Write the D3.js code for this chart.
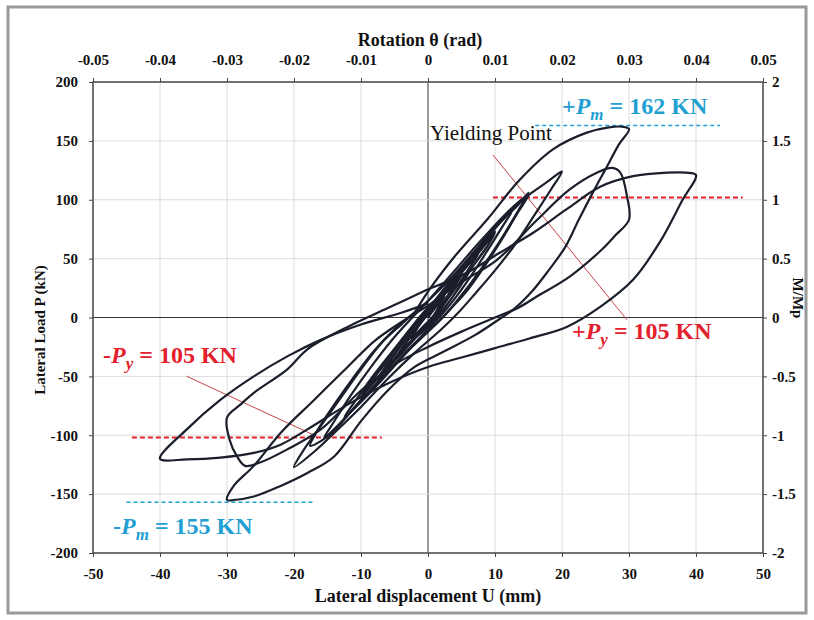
<!DOCTYPE html>
<html>
<head>
<meta charset="utf-8">
<script src="https://cdn.jsdelivr.net/npm/d3@7"></script>
<style>
  body { margin: 0; background: #fff; }
  svg text { font-family: "Liberation Serif", "Times New Roman", serif; }
</style>
</head>
<body>
<svg id="hysteresis-chart" width="814" height="620"></svg>
<script>
'use strict';

// axis ticks
var dispTicks = [-50, -40, -30, -20, -10, 0, 10, 20, 30, 40, 50]
var loadTicks = [-200, -150, -100, -50, 0, 50, 100, 150, 200]
var rotTicks = [-0.05, -0.04, -0.03, -0.02, -0.01, 0, 0.01, 0.02, 0.03, 0.04, 0.05]
var ratioTicks = [-2, -1.5, -1, -0.5, 0, 0.5, 1, 1.5, 2]

// hysteresis record, [U (mm), P (kN)], one array per displacement level
var cycle2 = [[0, 0], [1.2, 9], [2.5, 18], [1.8, 11], [0.6, 0], [-0.8, -8], [-2.5, -18], [-1.8, -11], [-0.6, 0], [0, 5]]
var cycle5 = [[0, 5], [2.5, 20], [5, 37], [4, 28], [2.2, 12], [0.8, 0], [-1.2, -12], [-3, -24], [-5, -36], [-4, -27],
  [-2.2, -12], [-0.8, 0], [1, 12], [3, 25], [5, 36], [4, 27], [2, 10], [0.6, -2], [-1.5, -14], [-5, -35],
  [-3.8, -26], [-1.5, -8], [0, 3]]
var cycle7 = [[0, 3], [2.5, 20], [5, 38], [7.5, 54], [6.5, 45], [4.5, 28], [2.5, 12], [1, 0], [-1.5, -14],
  [-4.5, -32], [-7.5, -52], [-6.5, -43], [-4.5, -27], [-2.5, -11], [-1, 0], [1.5, 16], [4.5, 35], [7.5, 55],
  [6.2, 42], [4, 24], [2, 8], [0.5, -4], [-2.5, -20], [-5, -36], [-7.5, -53], [-6, -40], [-3.5, -20],
  [-1.5, -6], [0, 3]]
var cycle10 = [[0, 3], [3, 24], [6, 45], [8, 58], [10, 72], [9, 62], [7, 46], [4.5, 24], [2.5, 8], [1, -3],
  [-2, -18], [-5, -36], [-8, -54], [-10, -68], [-9, -58], [-6.5, -40], [-4, -20], [-2, -6], [0, 6], [3, 26],
  [6.5, 50], [10, 73], [8.8, 60], [6, 38], [3.5, 16], [1.5, 2], [-1, -12], [-4.5, -34], [-8, -55], [-10, -67],
  [-8.5, -54], [-5.5, -32], [-3, -13], [-1, 2], [1, 14]]
var cycle12 = [[1, 14], [4, 35], [7, 56], [10, 76], [12.5, 90], [11.2, 78], [9, 58], [6.5, 36], [4, 16], [2, 2],
  [-1, -16], [-4.5, -38], [-8, -60], [-12.5, -85], [-11, -72], [-8.5, -52], [-5.5, -30], [-3, -12], [-1, 2], [1, 14]]
var cycle15 = [[1, 14], [4, 36], [8, 62], [11, 82], [13.5, 96], [15, 106], [13.8, 94], [11.5, 72], [9, 50],
  [6.5, 30], [4, 12], [2.5, 2], [0, -12], [-4, -34], [-8, -58], [-11.5, -80], [-14, -96], [-16, -105],
  [-17.6, -109], [-16.5, -96], [-14, -74], [-11, -50], [-8, -28], [-5, -10], [-2.5, 2], [0, 14]]
var cycle15b = [[0, 14], [3.5, 34], [7.5, 60], [11, 84], [13.5, 98], [15, 104], [13.5, 90], [11, 66], [8.5, 44],
  [6, 24], [3.5, 8], [1.5, -4], [-2, -22], [-6, -46], [-10, -70], [-13.5, -92], [-15.5, -102], [-14.2, -90],
  [-11.5, -66], [-8.5, -42], [-5.5, -20], [-3, -4], [0, 14]]
var cycle20 = [[0, 14], [4, 40], [8, 66], [12, 90], [15.5, 106], [18, 116], [20, 124], [18.5, 110], [16, 88],
  [13, 62], [10, 40], [7, 20], [4.5, 4], [2, -10], [-2, -30], [-6, -52], [-10, -76], [-14, -98], [-17, -114],
  [-20, -127], [-18.5, -112], [-16, -92], [-13, -68], [-10, -44], [-7, -22], [-4, -6], [-2, 4]]
var cycle30a = [[-2, 4], [0, 22], [4, 52], [8.8, 83], [13.7, 117], [18.7, 143], [23.7, 157], [27, 161.5],
  [29, 162], [30, 160], [28.5, 147], [26.5, 126], [24.5, 105], [22.5, 83], [20.5, 60], [18, 40], [15.5, 22],
  [13, 8], [11, 0], [7, -15], [2, -30], [-2, -42], [-6, -62], [-10, -88], [-14, -118], [-18, -132],
  [-22, -143], [-26, -152], [-29, -155], [-30, -155], [-29, -143], [-26, -126], [-22, -98], [-17, -70],
  [-12, -42], [-8, -20], [-4, -4], [0, 10]]
var cycle30b = [[0, 10], [5, 30], [10.3, 49], [16.3, 83], [21.2, 109], [25.2, 123], [27.5, 127], [28.7, 123],
  [29.7, 103], [30, 83], [28, 70], [26, 58], [21.2, 35], [16.3, 18], [13.7, 9], [10, 0], [5, -12], [0, -25],
  [-5, -40], [-10, -62], [-16, -95], [-21, -112], [-25, -123], [-27.3, -126], [-28.5, -118], [-29.6, -104],
  [-30, -85], [-28, -74], [-26, -64], [-21, -44], [-18, -27], [-12, -8], [-6, 8], [0, 24]]
var cycle40 = [[0, 24], [5.8, 38], [10.7, 55], [15.7, 72], [20.7, 92], [25.7, 111], [30.6, 120], [35.7, 123],
  [38.5, 123], [40, 121], [38, 100], [34.6, 64], [30.6, 32], [25.7, 9], [20.7, -8], [15, -18], [10, -26],
  [5, -34], [0, -42], [-6, -56], [-12, -74], [-18, -95], [-22, -108], [-26, -115], [-31, -119], [-36, -120.5],
  [-40, -120], [-36, -95], [-31, -70], [-26, -50], [-21, -33], [-16, -19], [-10, -6], [-4, 4], [0, 12]]

// reference levels drawn as dashed lines: load, from U, to U
var yieldLines = [[102, 9.7, 47], [-102, -44.2, -6.9]]
var peakLines = [[163, 16, 43.6], [-157, -45, -17.2]]
// leader lines from the labels to the yield points
var leaders = [[[9.7, 138], [29.7, -2]], [[-36, -50], [-16.6, -101]]]

var chart = (function() {
  var svg = d3.select('#hysteresis-chart')
  var left = 93, right = 763, top = 82, bottom = 553

  var x = d3.scaleLinear().domain([-50, 50]).range([left, right])
  var y = d3.scaleLinear().domain([-200, 200]).range([bottom, top])
  var xTop = d3.scaleLinear().domain([-0.05, 0.05]).range([left, right])
  var yRight = d3.scaleLinear().domain([-2, 2]).range([bottom, top])

  var ink = '#1a1f2b'
  var cyan = '#1f9fd2'
  var red = '#e3202b'

  function drawFrame() {
    svg.append('rect')
      .attr('x', 8).attr('y', 7).attr('width', 798).attr('height', 606)
      .attr('fill', 'none').attr('stroke', '#9a9a9a').attr('stroke-width', 3)
  }

  function drawGrid() {
    var grid = svg.append('g').attr('class', 'grid')
    grid.selectAll('line.v').data(dispTicks).enter().append('line')
      .attr('x1', function(d) { return x(d) }).attr('x2', function(d) { return x(d) })
      .attr('y1', top).attr('y2', bottom)
      .attr('stroke', function(d) { return d === 0 ? '#333' : '#dcdcdc' })
      .attr('stroke-width', 1)
    grid.selectAll('line.h').data(loadTicks).enter().append('line')
      .attr('y1', function(d) { return y(d) }).attr('y2', function(d) { return y(d) })
      .attr('x1', left).attr('x2', right)
      .attr('stroke', function(d) { return d === 0 ? '#333' : '#dcdcdc' })
      .attr('stroke-width', 1)
  }

  function styleAxis(g) {
    g.select('.domain').remove()
    g.selectAll('.tick line').attr('stroke', '#444')
    g.selectAll('.tick text')
      .attr('fill', '#111')
      .style('font-size', '15px')
      .style('font-weight', 'bold')
  }

  function drawAxes() {
    svg.append('g').attr('transform', 'translate(0,' + bottom + ')')
      .call(d3.axisBottom(x).tickValues(dispTicks).tickFormat(String).tickSizeInner(4).tickSizeOuter(0).tickPadding(11))
      .call(styleAxis)
    svg.append('g').attr('transform', 'translate(0,' + top + ')')
      .call(d3.axisTop(xTop).tickValues(rotTicks).tickFormat(function(d) { return d === 0 ? '0' : d.toFixed(2) })
        .tickSizeInner(4).tickSizeOuter(0).tickPadding(13))
      .call(styleAxis)
    svg.append('g').attr('transform', 'translate(' + left + ',0)')
      .call(d3.axisLeft(y).tickValues(loadTicks).tickFormat(String).tickSizeInner(4).tickSizeOuter(0).tickPadding(11))
      .call(styleAxis)
    svg.append('g').attr('transform', 'translate(' + right + ',0)')
      .call(d3.axisRight(yRight).tickValues(ratioTicks).tickFormat(String).tickSizeInner(4).tickSizeOuter(0).tickPadding(5))
      .call(styleAxis)

    svg.append('rect')
      .attr('x', left).attr('y', top).attr('width', right - left).attr('height', bottom - top)
      .attr('fill', 'none').attr('stroke', '#4a4a4a').attr('stroke-width', 1.5)

    var titleStyle = function(size) {
      return function(t) {
        t.attr('fill', '#111').style('font-size', size + 'px').style('font-weight', 'bold').attr('text-anchor', 'middle')
      }
    }
    svg.append('text').attr('x', 420).attr('y', 46).text('Rotation θ (rad)').call(titleStyle(18))
    svg.append('text').attr('x', 428).attr('y', 602).text('Lateral displacement U (mm)').call(titleStyle(18))
    svg.append('text').attr('transform', 'translate(45,330) rotate(-90)').text('Lateral Load P (kN)').call(titleStyle(15))
    svg.append('text').attr('transform', 'translate(793,298) rotate(90)').text('M/Mp').call(titleStyle(15))
  }

  function drawLevels() {
    var g = svg.append('g').attr('class', 'levels')
    g.selectAll('line.yield').data(yieldLines).enter().append('line')
      .attr('x1', function(d) { return x(d[1]) }).attr('x2', function(d) { return x(d[2]) })
      .attr('y1', function(d) { return y(d[0]) }).attr('y2', function(d) { return y(d[0]) })
      .attr('stroke', red).attr('stroke-width', 2).attr('stroke-dasharray', '5,3')
    g.selectAll('line.peak').data(peakLines).enter().append('line')
      .attr('x1', function(d) { return x(d[1]) }).attr('x2', function(d) { return x(d[2]) })
      .attr('y1', function(d) { return y(d[0]) }).attr('y2', function(d) { return y(d[0]) })
      .attr('stroke', cyan).attr('stroke-width', 1.5).attr('stroke-dasharray', '4,3')
    g.selectAll('line.leader').data(leaders).enter().append('line')
      .attr('x1', function(d) { return x(d[0][0]) }).attr('y1', function(d) { return y(d[0][1]) })
      .attr('x2', function(d) { return x(d[1][0]) }).attr('y2', function(d) { return y(d[1][1]) })
      .attr('stroke', '#c8444a').attr('stroke-width', 1)
  }

  function drawLoops() {
    var line = d3.line()
      .x(function(d) { return x(d[0]) })
      .y(function(d) { return y(d[1]) })
      .curve(d3.curveCatmullRom.alpha(0.5))
    var loops = [cycle2, cycle5, cycle7, cycle10, cycle12, cycle15, cycle15b, cycle20, cycle30a, cycle30b, cycle40]
    svg.append('g').attr('class', 'loops')
      .selectAll('path').data(loops).enter().append('path')
      .attr('d', line)
      .attr('fill', 'none')
      .attr('stroke', ink)
      .attr('stroke-width', 2.2)
      .attr('stroke-linejoin', 'round')
  }

  // label like "+P_m = 162 KN"
  function levelLabel(px, py, sign, sub, rest, color) {
    var t = svg.append('text').attr('x', px).attr('y', py)
      .attr('fill', color).style('font-size', '24px').style('font-weight', 'bold')
    t.append('tspan').text(sign)
    t.append('tspan').style('font-style', 'italic').text('P')
    t.append('tspan').style('font-style', 'italic').style('font-size', '17px').attr('dy', 6).text(sub)
    t.append('tspan').attr('dy', -6).text(' = ' + rest)
  }

  function drawLabels() {
    levelLabel(562, 114, '+', 'm', '162 KN', cyan)
    levelLabel(572, 339, '+', 'y', '105 KN', red)
    levelLabel(103, 363, '-', 'y', '105 KN', red)
    levelLabel(113, 534, '-', 'm', '155 KN', cyan)
    svg.append('text').attr('x', 430).attr('y', 140)
      .attr('fill', '#111').style('font-size', '21px')
      .text('Yielding Point')
  }

  function render() {
    drawFrame()
    drawGrid()
    drawAxes()
    drawLevels()
    drawLoops()
    drawLabels()
  }

  return { render: render }
}())

chart.render()
</script>
</body>
</html>
